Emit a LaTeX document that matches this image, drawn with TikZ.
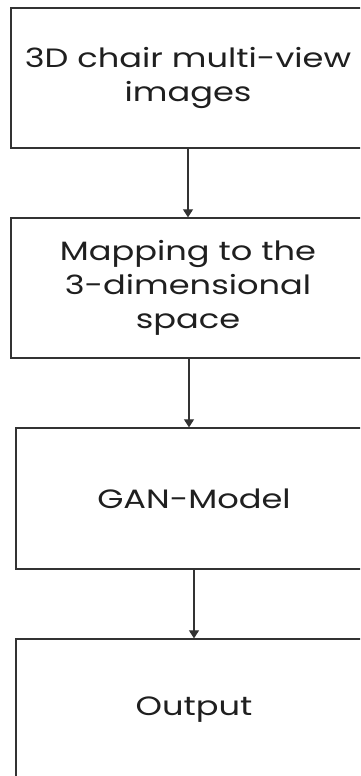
\documentclass[tikz,border=0pt]{standalone}
\usepackage{fontspec}
\setmainfont[FakeStretch=1.27]{Poppins}
\usetikzlibrary{arrows.meta}
\begin{document}
\begin{tikzpicture}[x=1pt,y=1pt,
  flowbox/.style={draw=black!80, line width=1.3pt, fill=white, inner sep=0pt, align=center,
    font=\fontsize{26.5}{34}\selectfont, text=black!88},
  flowarrow/.style={draw=black!80, line width=1.2pt, -{Triangle[length=8pt,width=10pt]}}]
\clip (0,0) rectangle (360,776);
\fill[white] (0,0) rectangle (360,776);
\node[flowbox, minimum width=354, minimum height=140] (b1) at (188,698)
  {3D chair multi-view\\images};
\node[flowbox, minimum width=354, minimum height=140] (b2) at (188,488)
  {Mapping to the\\3-dimensional\\space};
\node[flowbox, minimum width=356, minimum height=141] (b3) at (194,277.5) {GAN-Model};
\node[flowbox, minimum width=356, minimum height=142] (b4) at (194,66) {Output};
\draw[flowarrow] (b1.south) -- (b2.north);
\draw[flowarrow] ([xshift=1pt]b2.south) -- ([xshift=1pt]b2.south |- b3.north);
\draw[flowarrow] (b3.south) -- (b4.north);
\end{tikzpicture}
\end{document}
